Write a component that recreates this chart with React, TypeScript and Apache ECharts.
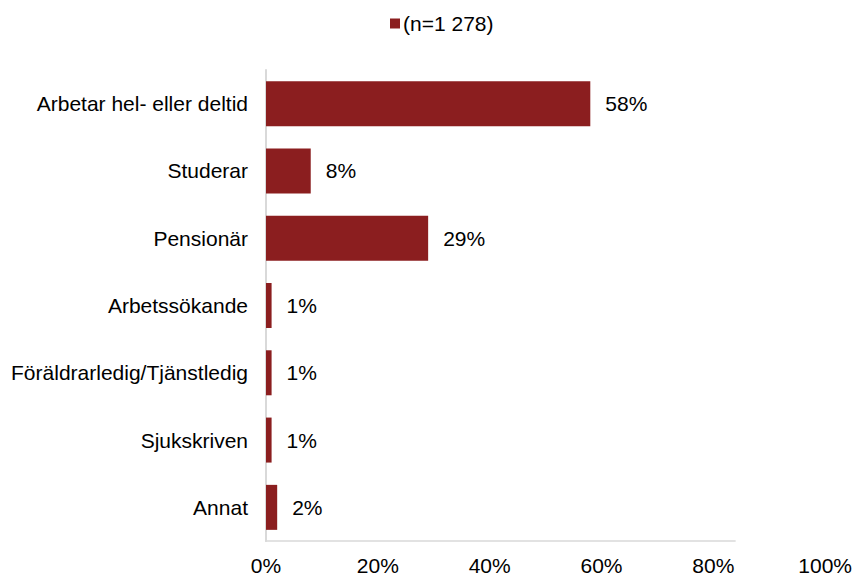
import React, { useEffect, useRef } from "react";
import * as echarts from "echarts";

const categories = [
  "Arbetar hel- eller deltid",
  "Studerar",
  "Pensionär",
  "Arbetssökande",
  "Föräldrarledig/Tjänstledig",
  "Sjukskriven",
  "Annat",
];
const values = [58, 8, 29, 1, 1, 1, 2];
const seriesName = "(n=1 278)";
const xTicks = [0, 20, 40, 60, 80, 100];
const axisLineEnd = 84; // horizontal axis line stops short in the reference (in % units)

const FONT = "'Liberation Sans', Arial, sans-serif";
const RED = "#8B1E1F";
const FS = 21;

export default function App() {
  const ref = useRef<HTMLDivElement>(null);
  useEffect(() => {
    if (!ref.current) return;
    const chart = echarts.init(ref.current, null, { renderer: "svg" });
    chart.setOption({
      animation: false,
      textStyle: { fontFamily: FONT },
      legend: {
        top: 8,
        left: 385,
        itemWidth: 10,
        itemHeight: 10,
        itemGap: 4,
        icon: "rect",
        textStyle: { fontSize: FS, color: "#000", fontFamily: FONT, padding: [0, 0, 0, -2] },
        data: [seriesName],
      },
      grid: { left: 266, right: 29, top: 70, bottom: 35, containLabel: false },
      xAxis: {
        type: "value",
        min: xTicks[0],
        max: xTicks[xTicks.length - 1],
        interval: 20,
        axisLine: { show: false },
        axisTick: { show: false },
        splitLine: { show: false },
        axisLabel: {
          formatter: "{value}%",
          fontSize: FS,
          color: "#000",
          margin: 14,
          fontFamily: FONT,
        },
      },
      yAxis: {
        type: "category",
        inverse: true,
        data: categories,
        axisLine: { show: true, lineStyle: { color: "#d9d9d9", width: 2 } },
        axisTick: { show: false },
        axisLabel: { fontSize: FS, color: "#000", margin: 18, fontFamily: FONT },
      },
      series: [
        {
          name: seriesName,
          type: "bar",
          data: values,
          barWidth: 45,
          itemStyle: { color: RED },
          label: {
            show: true,
            position: "right",
            distance: 15,
            formatter: "{c}%",
            fontSize: FS,
            color: "#000",
            fontFamily: FONT,
          },
        },
      ],
    });
    const p0 = chart.convertToPixel({ gridIndex: 0 }, [0, categories.length - 1]) as number[];
    const p1 = chart.convertToPixel({ gridIndex: 0 }, [axisLineEnd, categories.length - 1]) as number[];
    const bottomY = 576 - 35;
    chart.setOption({
      graphic: [
        {
          type: "line",
          shape: { x1: p0[0] - 1, y1: bottomY, x2: p1[0], y2: bottomY },
          style: { stroke: "#d9d9d9", lineWidth: 1.5 },
          z: 10,
        },
      ],
    });
    return () => chart.dispose();
  }, []);
  return <div ref={ref} style={{ width: 855, height: 576, position: "absolute", left: 0, top: 0 }} />;
}
